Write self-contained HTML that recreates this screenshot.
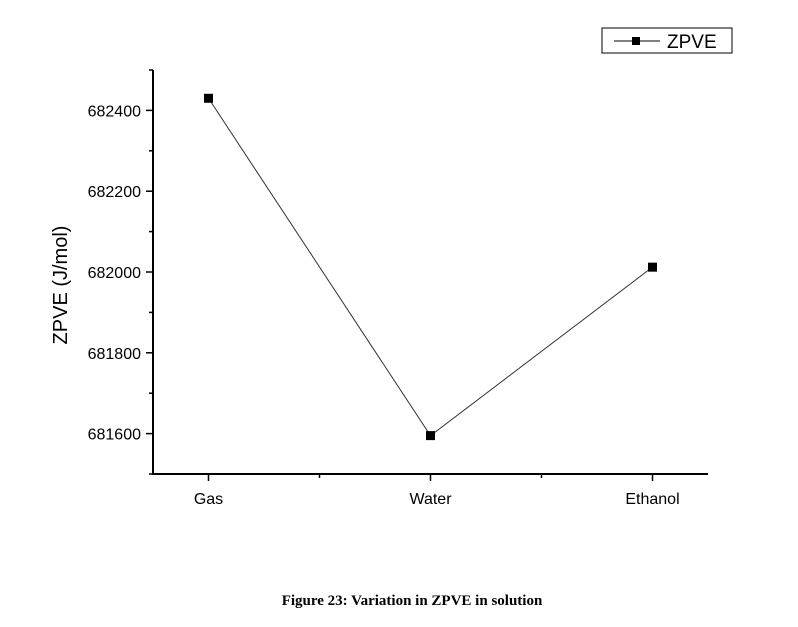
<!DOCTYPE html>
<html><head><meta charset="utf-8"><style>
html,body{margin:0;padding:0;background:#fff;}
svg text{font-family:"Liberation Sans",sans-serif;fill:#000;}
</style></head><body>
<svg width="798" height="622" viewBox="0 0 798 622" xmlns="http://www.w3.org/2000/svg">
<g id="plot"></g>
<g>
<rect x="602" y="28" width="130" height="25" fill="#fff" stroke="#000" stroke-width="1"/>
<line x1="614" y1="41" x2="660" y2="41" stroke="#000" stroke-width="1"/>
<rect x="632" y="37" width="8" height="8" fill="#000"/>
<text x="667" y="48" font-size="19">ZPVE</text>
</g>
<text transform="translate(67,285) rotate(-90)" text-anchor="middle" font-size="20">ZPVE (J/mol)</text>
<text x="412" y="605" text-anchor="middle" font-size="15" font-weight="bold" style="font-family:'Liberation Serif',serif">Figure 23: Variation in ZPVE in solution</text>
</svg>
<script>
const categories=["Gas","Water","Ethanol"];
const values=[682430,681595,682012];
const yTicks=[681600,681800,682000,682200,682400];
const yMinor=[681500,681700,681900,682100,682300,682500];
const NS="http://www.w3.org/2000/svg";
const L=153,R=708,T=70,B=474,yMin=681500,yMax=682500;
function xs(i){return L+(i+0.25)*(R-L)/2.5;}
function ys(v){return B-(v-yMin)/(yMax-yMin)*(B-T);}
const g=document.getElementById('plot');
function mk(tag,a){const e=document.createElementNS(NS,tag);for(const k in a)e.setAttribute(k,a[k]);g.appendChild(e);return e;}
let e=mk('line',{x1:L,y1:T,x2:L,y2:B+1,stroke:'#000','stroke-width':2});


e=mk('line',{x1:L-1,y1:B,x2:R,y2:B,stroke:'#000','stroke-width':2});


yTicks.forEach(v=>{
 const t=mk('line',{x1:L-7,y1:ys(v),x2:L,y2:ys(v),stroke:'#000','stroke-width':1.5});
 
 
 const tx=mk('text',{x:L-12,y:ys(v)+6,'text-anchor':'end','font-size':16});
 tx.textContent=v;
 
 
});
yMinor.forEach(v=>{
 const t=mk('line',{x1:L-4,y1:ys(v),x2:L,y2:ys(v),stroke:'#000','stroke-width':1.5});
 
 
});
categories.forEach((c,i)=>{
 const t=mk('line',{x1:xs(i),y1:B,x2:xs(i),y2:B+7,stroke:'#000','stroke-width':1.5});
 
 
 if(i<categories.length-1){
  const m=mk('line',{x1:xs(i+0.5),y1:B,x2:xs(i+0.5),y2:B+4,stroke:'#000','stroke-width':1.5});
  
  
 }
 const tx=mk('text',{x:xs(i),y:B+30,'text-anchor':'middle','font-size':16});
 tx.textContent=c;
 
 
});
const pl=mk('polyline',{points:values.map((v,i)=>xs(i)+','+ys(v)).join(' '),fill:'none',stroke:'#333','stroke-width':1});


values.forEach((v,i)=>{
 const r=mk('rect',{x:xs(i)-4.5,y:ys(v)-4.5,width:9,height:9,fill:'#000'});
 
 
});
</script>
</body></html>
